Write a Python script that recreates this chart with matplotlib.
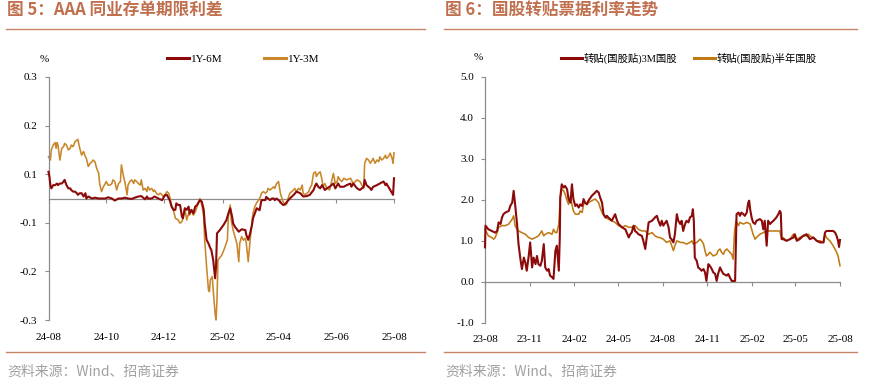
import numpy as np
import pandas as pd
import matplotlib
matplotlib.use("Agg")
import matplotlib.pyplot as plt
from matplotlib.lines import Line2D

# ---------------- data: left chart (AAA NCD term spreads, %) ----------------
left_start = "2024-08-01"
l_days_6m = [0, 1, 2, 3, 5, 7, 9, 10, 12, 14, 16, 17, 19, 21, 23, 24, 26, 28, 30, 31, 33, 35, 37, 39, 40,
             42, 46, 49, 53, 56, 60, 63, 67, 70, 74, 77, 81, 84, 88, 91, 95, 98, 102, 104, 105, 109, 112,
             116, 120, 123, 125, 127, 128,
             130, 132, 134, 135, 137, 139, 141, 142, 144, 146, 148, 149, 151, 153, 155, 157, 158, 160, 162,
             164, 165, 167, 169, 171, 172, 174, 176, 177, 178, 181, 185, 188, 190, 192, 194, 195, 197, 201,
             204, 208, 209, 211, 213, 215, 216, 220, 223, 225, 229, 230,
             234, 236, 238, 239, 241, 243, 245, 246, 248, 250, 252, 255, 259, 262, 266, 269, 273, 276, 280,
             282, 283, 285, 287, 289, 290, 292, 294, 297, 301, 303, 305, 306, 308, 312, 315, 319, 320, 322,
             326, 329, 333, 334, 336, 338, 340, 341, 343, 347, 350, 354, 356, 357, 359, 361, 363, 364, 365]
l_vals_6m = [0.066, 0.054, 0.033, 0.025, 0.033, 0.033, 0.037, 0.033, 0.037, 0.037, 0.042, 0.046, 0.033,
             0.025, 0.025, 0.021, 0.017, 0.017, 0.013, 0.009, 0.013, 0.013, 0.005, 0.013, 0.000,
             0.005, 0.000, 0.002, 0.000, 0.000, 0.000, 0.003, 0.000, -0.005, 0.000, 0.000, 0.002, 0.000,
             -0.001, 0.002, 0.005, 0.006, -0.002, 0.005, 0.000, 0.000, 0.005,
             0.000, -0.004, 0.008, 0.009, 0.000, -0.004,
             -0.020, -0.028, -0.028, -0.012, -0.016, -0.016, -0.045, -0.049, -0.024, -0.028, -0.020, -0.037,
             -0.028, -0.037, -0.020, -0.016, -0.012, -0.004, -0.008,
             -0.028, -0.061, -0.102, -0.111, -0.123, -0.127, -0.152, -0.197, -0.168, -0.086, -0.078, -0.065,
             -0.053, -0.037, -0.024, -0.045, -0.061, -0.070, -0.082,
             -0.076, -0.078, -0.090, -0.102, -0.086, -0.065, -0.049, -0.024, -0.029, -0.004, -0.004, 0.004,
             -0.004, 0.000, 0.000, -0.004, 0.000, -0.004, -0.008, -0.012, -0.016, -0.014, -0.008, 0.000, 0.009,
             0.017, 0.013, 0.005, 0.006, 0.009, 0.021,
             0.033, 0.037, 0.029, 0.025, 0.033, 0.029, 0.021, 0.025, 0.029, 0.037, 0.025, 0.033, 0.037, 0.029,
             0.029, 0.033, 0.037, 0.029, 0.037,
             0.025, 0.021, 0.029, 0.046, 0.033, 0.029, 0.025, 0.021, 0.029, 0.033, 0.037, 0.042, 0.033, 0.037,
             0.029, 0.021, 0.013, 0.009, 0.050]

l_days_3m = [0, 2, 3, 5, 7, 8, 9, 10, 12, 14, 16, 17, 19, 21, 23, 24, 26, 28, 30, 31, 33, 35, 37, 39, 40,
             42, 44, 46, 47, 49, 51, 53, 54, 56, 58, 60, 61, 63, 65, 67, 68, 70, 72, 74, 76, 77, 79, 81, 83,
             84, 86, 88, 90, 91, 93, 95, 97, 98, 100, 102, 104, 105, 107, 109, 111, 112, 114, 116, 118, 120,
             121, 123, 125, 127, 128,
             130, 132, 134, 137, 139, 141, 142, 144, 146, 148, 149, 151, 153, 155, 157, 158, 160, 162, 164,
             165, 167, 169, 170, 171, 173, 174, 176, 177, 178, 179, 183, 186, 189, 190, 192, 193, 195, 197,
             199, 201, 202, 204, 206, 208, 209, 211, 213,
             215, 216, 218, 220, 222, 224, 225, 227, 229, 231, 232, 234, 236, 238, 239, 241, 243, 245, 246,
             248, 250, 252, 253, 255, 257, 259, 260, 262, 264, 266, 268, 269, 271, 273, 275, 276, 278, 280,
             282, 283, 285, 287, 289, 290, 292, 294, 297, 301, 303, 305, 306, 308, 310, 312, 315, 319, 322,
             326, 329, 331, 333, 334, 336, 338, 340, 341, 343, 345, 347, 349, 350, 352, 354, 356, 357, 359,
             361, 363, 364, 365]
l_vals_3m = [0.103, 0.095, 0.120, 0.132, 0.138, 0.124, 0.138, 0.132, 0.095, 0.124, 0.128, 0.136, 0.132,
             0.120, 0.124, 0.132, 0.128, 0.140, 0.144, 0.146, 0.124, 0.107, 0.116, 0.103, 0.099,
             0.079, 0.087, 0.091, 0.095, 0.091, 0.074, 0.062, 0.037, 0.017, 0.029, 0.037, 0.042, 0.033, 0.033,
             0.037, 0.046, 0.042, 0.021, 0.037, 0.042, 0.083, 0.058, 0.037, 0.009,
             0.033, 0.042, 0.046, 0.037, 0.046, 0.042, 0.037, 0.033, 0.046, 0.021, 0.025, 0.017, 0.029, 0.021,
             0.025, 0.017, 0.021, 0.013, 0.009, 0.013, 0.009,
             0.005, 0.009, 0.017, 0.013, 0.005,
             -0.016, -0.028, -0.049, -0.053, -0.061, -0.057, -0.049, -0.025, -0.053, -0.037, -0.041, -0.028,
             -0.041, -0.033, -0.020, -0.012, 0.000, -0.016, -0.045,
             -0.102, -0.168, -0.226, -0.230, -0.201, -0.193, -0.226, -0.284, -0.300, -0.251, -0.152, -0.140,
             -0.123, -0.102, -0.045, -0.016, -0.053, -0.078, -0.094,
             -0.111, -0.156, -0.111, -0.094, -0.103, -0.098, -0.111, -0.156, -0.103,
             -0.060, -0.037, -0.020, -0.010, -0.004, 0.005, 0.013, 0.017, 0.013, 0.017, 0.025, 0.021, 0.025,
             0.029, 0.025, 0.037, 0.042, 0.013, 0.005,
             -0.008, -0.016, -0.012, 0.000, 0.013, 0.017, 0.021, 0.025, 0.017, 0.025, 0.021, 0.033, 0.013,
             0.009, 0.013, 0.017, 0.025, 0.033, 0.062,
             0.066, 0.054, 0.062, 0.066, 0.046, 0.029, 0.037, 0.025, 0.021, 0.062, 0.037, 0.042, 0.054, 0.046,
             0.042, 0.050, 0.046, 0.050, 0.037,
             0.046, 0.042, 0.033, 0.025, 0.087, 0.099, 0.095, 0.087, 0.091, 0.099, 0.087, 0.095, 0.091, 0.103,
             0.095, 0.099, 0.107, 0.099, 0.103,
             0.112, 0.099, 0.087, 0.113]

left_ticks = ["2024-08-01", "2024-10-01", "2024-12-01", "2025-02-01", "2025-04-01", "2025-06-01", "2025-08-01"]
left_tick_labels = ["24-08", "24-10", "24-12", "25-02", "25-04", "25-06", "25-08"]
left_yticks = [0.3, 0.18, 0.06, -0.06, -0.18, -0.3]
left_ytick_labels = ["0.3", "0.2", "0.1", "-0.1", "-0.2", "-0.3"]

# ---------------- data: right chart (discount bill rates, %) ----------------
right_start = "2023-08-01"
r_days_3m = [0, 1, 7, 14, 21, 25, 28, 32, 35, 38, 42, 49, 52, 56, 59, 62, 66, 69, 73, 76, 80, 83, 86, 90, 93,
             97, 100, 104, 107, 110, 114, 117, 121, 124, 128, 131, 134, 138, 141, 145, 148, 152, 154, 155,
             158, 162, 165, 169, 172, 176, 179, 182, 186, 189, 193, 196, 200, 203, 206, 210, 213, 220, 227,
             230, 234, 237, 241, 244, 248, 251, 254, 261, 268, 272, 275, 282, 289, 296, 299, 302, 306, 309,
             313, 316, 323, 326, 330, 333, 337, 344, 350, 354, 357, 361, 364, 367, 374, 378, 381, 384, 388,
             391, 395, 398, 402, 405, 408, 412, 415, 419, 422, 426, 428, 430, 432, 436, 439, 443, 446, 450,
             453, 456, 460, 463, 467, 470, 474, 477, 480, 484, 487, 491, 498, 501, 504, 508, 511, 515, 517,
             518, 522, 525, 528, 532, 535, 539, 542, 544, 546, 549, 552, 556, 559, 566, 570, 573, 576, 580,
             583, 587, 590, 594, 600, 604, 607, 609, 611, 614, 621, 628, 635, 638, 642, 648, 655, 662, 669,
             676, 683, 690, 697, 700, 703, 710, 717, 721, 724, 727, 729, 731]
r_vals_3m = [0.84, 1.37, 1.28, 1.24, 1.20, 1.24, 1.45, 1.41, 1.57, 1.65, 1.69, 1.73, 1.85, 1.93, 2.22, 1.89,
             1.41, 0.92, 0.55, 0.31, 0.59, 0.47, 0.27, 0.63, 0.96,
             0.35, 0.59, 0.43, 0.63, 0.43, 0.39, 0.51, 0.92, 0.35, 0.27, 0.31, 0.15, 0.11, 0.07, 0.76, 0.88,
             0.27, 1.08, 2.06,
             2.38, 2.30, 2.34, 2.26, 2.02, 1.93, 2.38, 2.02, 1.85, 1.89, 1.81, 1.89, 1.85, 2.02, 1.93, 1.89,
             1.98, 2.10, 2.18,
             2.22, 2.18, 2.06, 1.93, 1.65, 1.57, 1.61, 1.57, 1.49, 1.65, 1.49, 1.41, 1.33, 1.28, 1.08, 1.16,
             1.20, 1.37, 1.24,
             1.20, 1.16, 1.12, 1.00, 0.80, 1.08, 1.45, 1.49, 1.57, 1.61, 1.49, 1.37, 1.49, 1.37, 1.49, 1.33,
             1.08, 1.04, 0.96,
             1.16, 1.65, 1.49, 1.41, 1.49, 1.24, 1.41, 1.49, 1.45, 1.57, 1.61, 1.77, 1.49, 0.59, 0.51, 0.35,
             0.31, 0.27, 0.31,
             0.23, 0.02, 0.43, 0.39, 0.31, 0.23, 0.19, 0.02, 0.19, 0.35, 0.27, 0.19, 0.15, 0.19, 0.11, 0.02,
             0.02, 0.02, 1.08,
             1.65, 1.69, 1.61, 1.69, 1.65, 1.61, 1.69, 1.93, 1.98, 1.77, 1.57, 1.45, 1.41, 1.49, 1.53, 1.49,
             1.28, 1.49, 0.88,
             1.49, 1.41, 1.45, 1.49, 1.57, 1.65, 1.73, 1.69, 1.04, 1.04, 1.00, 1.04, 1.08, 1.16, 1.00, 1.04,
             1.12, 1.16, 1.04,
             1.08, 1.00, 0.96, 0.96, 1.20, 1.24, 1.24, 1.24, 1.20, 1.12, 1.00, 0.85, 1.02]

r_days_6m = [0, 7, 14, 18, 21, 25, 28, 35, 42, 49, 56, 59, 62, 66, 69, 76, 83, 90, 97, 104, 110, 117, 121,
             124, 131, 138, 141, 145, 148, 152, 155, 158, 162, 165, 169, 172, 176, 179, 182, 186, 193, 196,
             200, 203, 206, 213, 220, 227, 230, 234, 237, 241, 248, 254, 261, 268, 275, 282, 289, 296, 302,
             309, 316, 323, 330, 337, 344, 350, 357, 360, 367, 374, 381, 388, 391, 395, 402, 408, 415, 422,
             426, 429, 436, 443, 446, 450, 453, 456, 460, 463, 470, 477, 480, 484, 487, 491, 494, 498, 504,
             508, 511, 514, 517, 522, 525, 532, 539, 546, 549, 552, 556, 559, 566, 573, 580, 587, 594, 600,
             607, 611, 614, 621, 628, 635, 638, 642, 648, 655, 662, 666, 669, 676, 683, 690, 697, 700, 703,
             710, 717, 724, 727, 731]
r_vals_6m = [1.28, 1.12, 1.08, 1.04, 1.08, 1.20, 1.33, 1.37, 1.37, 1.41, 1.53, 1.61, 1.37, 1.28, 1.24, 1.20,
             1.16, 1.08, 1.04, 1.08, 1.12, 1.24, 1.12,
             1.16, 1.20, 1.16, 1.28, 1.20, 1.20, 1.41, 2.06, 2.26, 2.22, 2.14, 1.98, 1.89, 2.10, 1.89, 1.73,
             1.65, 1.65, 1.73,
             1.69, 1.89, 1.93, 1.93, 1.98, 2.02, 1.98, 1.93, 1.81, 1.69, 1.57, 1.53, 1.49, 1.45, 1.37, 1.33,
             1.37, 1.33, 1.33,
             1.37, 1.28, 1.24, 1.24, 1.16, 1.20, 1.12, 1.08, 1.08, 1.04, 0.96, 1.00, 0.76, 0.88, 1.00, 0.96,
             0.96, 0.92, 0.96,
             1.00, 0.92, 0.96, 1.04, 1.00, 0.92, 0.76, 0.63, 0.67, 0.72, 0.63, 0.67, 0.76, 0.80, 0.72, 0.67,
             0.76, 0.80, 0.72,
             0.67, 0.55, 1.24, 1.49, 1.37, 1.45, 1.41, 1.45, 1.41, 1.28, 1.16, 1.04, 1.08, 1.16, 1.20, 1.24,
             1.24, 1.24, 1.24,
             1.24, 1.04, 1.08, 1.00, 1.04, 1.16, 1.08, 1.04, 1.08, 1.12, 1.12, 1.16, 1.12, 1.08, 1.00, 1.00,
             0.96, 1.16, 1.08,
             1.00, 0.88, 0.72, 0.63, 0.39]

right_ticks = ["2023-08-01", "2023-11-01", "2024-02-01", "2024-05-01", "2024-08-01", "2024-11-01",
               "2025-02-01", "2025-05-01", "2025-08-01"]
right_tick_labels = ["23-08", "23-11", "24-02", "24-05", "24-08", "24-11", "25-02", "25-05", "25-08"]
right_yticks = [5.0, 4.0, 3.0, 2.0, 1.0, 0.0, -1.0]
right_ytick_labels = ["5.0", "4.0", "3.0", "2.0", "1.0", "0.0", "-1.0"]

left_series_names = ["1Y-6M", "1Y-3M"]
right_series_names = ["转贴(国股贴)3M国股", "转贴(国股贴)半年国股"]
titles = ["图 5：AAA 同业存单期限利差", "图 6：国股转贴票据利率走势"]
source = "资料来源：Wind、招商证券"

# ---------------- styling ----------------
RED = "#8C0A0A"
ORANGE_L = "#C9862A"
ORANGE_R = "#BF7A14"
GRAY = "#8C8C8C"
TITLE_C = "#C0704E"
RULE_C = "#C98466"
SERIF = ["Liberation Serif", "Noto Sans CJK SC"]
CJK = ["Noto Sans CJK SC", "DejaVu Sans"]

W, H = 875, 391
fig = plt.figure(figsize=(W / 100, H / 100), dpi=100)


def fx(px):
    return px / W


def fy(py):
    return 1 - py / H


def dates(start, days):
    return pd.Timestamp(start) + pd.to_timedelta(np.asarray(days), unit="D")


def style_axes(ax, ylim, yticks, ylabels, xlim, xticks, xlabels):
    ax.set_xlim(pd.Timestamp(xlim[0]), pd.Timestamp(xlim[1]))
    ax.set_ylim(*ylim)
    for s in ["top", "right", "bottom"]:
        ax.spines[s].set_visible(False)
    ax.spines["left"].set_color(GRAY)
    ax.spines["left"].set_linewidth(0.9)
    ax.set_yticks(yticks)
    ax.set_yticklabels(ylabels, fontfamily=SERIF, fontsize=8)
    ax.tick_params(axis="y", direction="out", length=3, width=0.8, color=GRAY, pad=5)
    xt = pd.to_datetime(xticks)
    ax.set_xticks(xt)
    ax.set_xticklabels(xlabels, fontfamily=SERIF, fontsize=8)
    ax.tick_params(axis="x", length=0, pad=9)
    loc = (0 - ylim[0]) / (ylim[1] - ylim[0])
    sec = ax.secondary_xaxis(loc)
    sec.set_alignment("bottom")
    sec.set_xticks(xt)
    sec.set_xticklabels([""] * len(xt))
    sec.spines["bottom"].set_color(GRAY)
    sec.spines["bottom"].set_linewidth(0.9)
    sec.tick_params(axis="x", direction="out", length=3, width=0.8, color=GRAY)
    ax.patch.set_visible(False)


# left chart
axL = fig.add_axes([fx(48.5), fy(320), fx(394 - 48.5), (320 - 77) / H])
l1, = axL.plot(dates(left_start, l_days_6m), l_vals_6m, color=RED, lw=1.5, zorder=3, clip_on=False)
l2, = axL.plot(dates(left_start, l_days_3m), l_vals_3m, color=ORANGE_L, lw=1.15, zorder=2, clip_on=False)
style_axes(axL, (-0.3, 0.3), left_yticks, left_ytick_labels,
           ("2024-08-01", "2025-08-01"), left_ticks, left_tick_labels)

# right chart
axR = fig.add_axes([fx(485), fy(322.7), fx(840 - 485), (322.7 - 77) / H])
r1, = axR.plot(dates(right_start, r_days_3m), r_vals_3m, color=RED, lw=1.5, zorder=3, clip_on=False)
r2, = axR.plot(dates(right_start, r_days_6m), r_vals_6m, color=ORANGE_R, lw=1.15, zorder=2, clip_on=False)
style_axes(axR, (-1.0, 5.0), right_yticks, right_ytick_labels,
           ("2023-08-01", "2025-08-01"), right_ticks, right_tick_labels)

# legends (one per entry, anchored at the handle start)
def add_legend(handle, label, x_px, y_px, fs):
    lg = fig.legend([Line2D([], [], color=handle.get_color(), lw=2.2)], [label],
                    loc="center left", bbox_to_anchor=(fx(x_px), fy(y_px)),
                    frameon=False, borderpad=0, borderaxespad=0, handlelength=2.0,
                    handletextpad=0.15, prop={"family": SERIF, "size": fs})
    return lg


add_legend(l1, left_series_names[0], 167, 59, 8)
add_legend(l2, left_series_names[1], 264, 59, 8)
add_legend(r1, right_series_names[0], 561, 58.5, 7.5)
add_legend(r2, right_series_names[1], 694, 58.5, 7.5)

# "%" unit labels
fig.text(fx(44), fy(59), "%", fontfamily=SERIF, fontsize=8, ha="center", va="center")
fig.text(fx(478), fy(58), "%", fontfamily=SERIF, fontsize=8, ha="center", va="center")

# titles, rules, sources
for x0, x1, title in [(6, 425, titles[0]), (444, 857, titles[1])]:
    fig.text(fx(x0 + 1), fy(9.5), title, fontfamily=CJK, fontsize=12, fontweight="bold",
             color=TITLE_C, ha="left", va="center")
    fig.add_artist(Line2D([fx(x0), fx(x1)], [fy(29.3), fy(29.3)], color=RULE_C, lw=1.0))
    fig.add_artist(Line2D([fx(x0), fx(x1)], [fy(351.7), fy(351.7)], color=RULE_C, lw=1.0))
    fig.text(fx(x0 + 1), fy(372), source, fontfamily=CJK, fontsize=10, color="#A0A0A0",
             ha="left", va="center")

fig.savefig("out.png", dpi=100)
